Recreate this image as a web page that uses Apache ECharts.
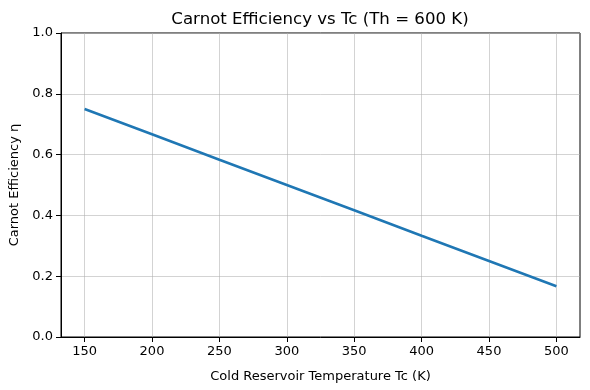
<!DOCTYPE html>
<html>
<head>
<meta charset="utf-8">
<script src="https://cdn.jsdelivr.net/npm/echarts@6/dist/echarts.min.js"></script>
<style>html,body{margin:0;padding:0;background:#fff}#c{width:590px;height:390px}</style>
</head>
<body>
<div id="c"></div>
<script>
const tc = [150, 200, 250, 300, 350, 400, 450, 500];
const eta = [0.75, 0.667, 0.583, 0.5, 0.417, 0.333, 0.25, 0.167];
const xTicks = [150, 200, 250, 300, 350, 400, 450, 500];
const yTicks = [0, 0.2, 0.4, 0.6, 0.8, 1.0];

const font = 'DejaVu Sans';
const chart = echarts.init(document.getElementById('c'), null, {renderer: 'canvas'});
chart.setOption({
  animation: false,
  backgroundColor: '#fff',
  title: {
    text: 'Carnot Efficiency vs Tc (Th = 600 K)',
    left: 315, top: 6, textAlign: 'center',
    textStyle: {fontFamily: font, fontSize: 16.6, fontWeight: 'normal', color: '#000'}
  },
  grid: {left: 61, right: 10, top: 33, bottom: 53, containLabel: false, outerBoundsMode: 'none',
         show: true, borderColor: '#000', borderWidth: 1, backgroundColor: 'transparent'},
  xAxis: {
    type: 'value', min: 132.5, max: 517.5,
    name: 'Cold Reservoir Temperature Tc (K)', nameLocation: 'middle', nameGap: 33,
    nameTextStyle: {fontFamily: font, fontSize: 13, color: '#000'},
    axisLine: {show: true, lineStyle: {color: '#000', width: 1}},
    axisTick: {show: true, length: 5, inside: false, customValues: xTicks, lineStyle: {color: '#000'}},
    axisLabel: {customValues: xTicks, fontFamily: font, fontSize: 13, color: '#000', margin: 8},
    splitLine: {show: false}
  },
  yAxis: {
    type: 'value', min: 0, max: 1, interval: 0.2,
    name: 'Carnot Efficiency η', nameLocation: 'middle', nameGap: 38,
    nameTextStyle: {fontFamily: font, fontSize: 13, color: '#000'},
    axisLine: {show: true, lineStyle: {color: '#000', width: 1}},
    axisTick: {show: true, length: 5, lineStyle: {color: '#000'}},
    axisLabel: {fontFamily: font, fontSize: 13, color: '#000', margin: 8, formatter: v => v.toFixed(1)},
    splitLine: {show: true, lineStyle: {color: '#b0b0b0', width: 0.8, opacity: 0.7}}
  },
  series: [{
    type: 'line', data: tc.map((t, i) => [t, eta[i]]),
    showSymbol: false, symbol: 'none',
    lineStyle: {color: '#1f77b4', width: 2.5},
    z: 3,
    markLine: {
      silent: true, symbol: 'none', label: {show: false},
      lineStyle: {color: '#b0b0b0', width: 0.8, type: 'solid', opacity: 0.7},
      data: xTicks.map(v => ({xAxis: v})),
      z: 1
    }
  }]
});
</script>
</body>
</html>
